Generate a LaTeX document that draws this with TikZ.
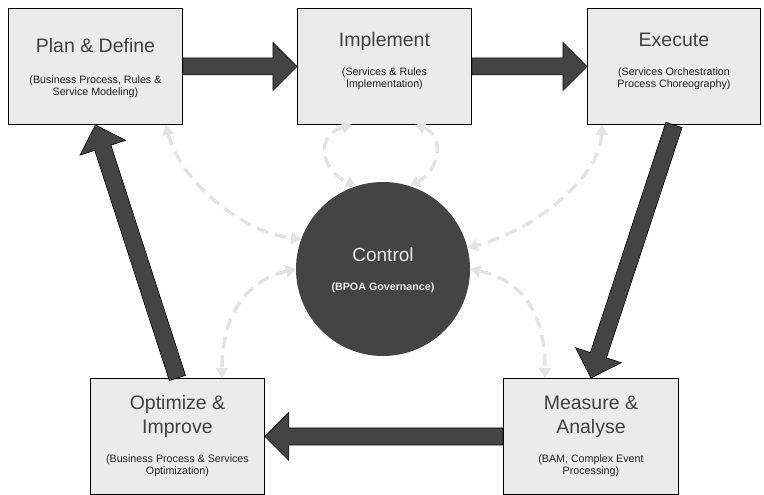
\documentclass[tikz,border=0pt]{standalone}
\usepackage{fontspec}
\setmainfont{Liberation Sans}
\usetikzlibrary{calc,arrows.meta}

\definecolor{boxfill}{HTML}{EBEBEB}
\definecolor{flowdark}{HTML}{444444}
\definecolor{titlegray}{HTML}{404040}
\definecolor{subgray}{HTML}{1E1E1E}
\definecolor{linkgray}{HTML}{E3E3E3}
\definecolor{ctrltext}{HTML}{E8E8E8}

\tikzset{
  stage/.style={draw=black, line width=0.9pt, fill=boxfill, inner sep=0pt,
    minimum width=174pt, minimum height=116pt, anchor=north west},
  hub/.style={circle, fill=flowdark, inner sep=0pt, minimum size=174pt},
  stagetitle/.style={text=titlegray, inner sep=0pt, align=center,
    font=\fontsize{19.5}{24}\selectfont},
  stagenote/.style={text=subgray, inner sep=0pt, align=center,
    font=\fontsize{10.7}{12}\selectfont},
  flowarrow/.style={fill=flowdark, draw=black, line width=0.6pt, line join=miter},
  feedback/.style={draw=linkgray, line width=3.4pt, dash pattern=on 12pt off 7pt,
    {Triangle[length=10pt,width=12pt]}-{Triangle[length=10pt,width=12pt]}}
}

% block arrow from #1 to #2: shaft half-width 8.5, head 24 long, 48 wide
\newcommand\blockarrow[2]{%
  \coordinate (ba-base) at ($(#2)!24pt!(#1)$);
  \filldraw[flowarrow]
    ($(#1)!8.5pt!90:(#2)$) -- ($(ba-base)!8.5pt!90:(#2)$)
    -- ($(ba-base)!24pt!90:(#2)$) -- (#2)
    -- ($(ba-base)!24pt!-90:(#2)$) -- ($(ba-base)!8.5pt!-90:(#2)$)
    -- ($(#1)!8.5pt!-90:(#2)$) -- cycle;
}

\begin{document}
\begin{tikzpicture}[x=1pt,y=-1pt]
\useasboundingbox (0,0) rectangle (764,495);

% lifecycle stages
\node[stage] (plan) at (8,8) {};
\node[stage] (impl) at (297,8) {};
\node[stage, minimum width=173pt] (exec) at (587,8) {};
\node[stage] (opt) at (90,378) {};
\node[stage, minimum width=175pt] (meas) at (503,378) {};

% central governance hub
\node[hub] (ctrl) at (383,269) {};

% stage texts
\node[stagetitle, anchor=base] (plan-t) at ($(plan.north)+(0,45)$) {Plan \& Define};
\node[stagenote] (plan-n) at ($(plan.north)+(0,78.75)$) {(Business Process, Rules \&\\Service Modeling)};

\node[stagetitle, anchor=base] (impl-t) at ($(impl.north)+(0,38.5)$) {Implement};
\node[stagenote] (impl-n) at ($(impl.north)+(0,70.5)$) {(Services \& Rules\\Implementation)};

\node[stagetitle, anchor=base] (exec-t) at ($(exec.north)+(0,38.5)$) {Execute};
\node[stagenote] (exec-n) at ($(exec.north)+(0,70.5)$) {(Services Orchestration\\Process Choreography)};

\node[stagetitle] (opt-t) at ($(opt.north)+(0,38.9)$) {Optimize \&\\Improve};
\node[stagenote] (opt-n) at ($(opt.north)+(0,87.25)$) {(Business Process \& Services\\Optimization)};

\node[stagetitle] (meas-t) at ($(meas.north)+(0,38.7)$) {Measure \&\\Analyse};
\node[stagenote] (meas-n) at ($(meas.north)+(0,87.25)$) {(BAM, Complex Event\\Processing)};

\node[text=ctrltext, inner sep=0pt, anchor=base, font=\fontsize{19}{24}\selectfont]
  (ctrl-t) at ($(ctrl.center)+(0,-7.3)$) {Control};
\node[text=ctrltext, inner sep=0pt, anchor=base, font=\bfseries\fontsize{10.7}{12}\selectfont]
  (ctrl-n) at ($(ctrl.center)+(0,21)$) {(BPOA Governance)};

% governance feedback links
\draw[feedback] ($(plan.south east)+(-17,0)$) .. controls (180,180) and (240,232) .. (ctrl.160);
\draw[feedback] (ctrl.180) .. controls (250,280) and (222,310) .. ($(opt.north west)+(132,0)$);
\draw[feedback] ($(impl.south west)+(55,0)$) .. controls (315,135) and (320,170) .. (ctrl.108);
\draw[feedback] ($(impl.south west)+(118,0)$) .. controls (445,135) and (440,170) .. (ctrl.72);
\draw[feedback] ($(exec.south west)+(15,0)$) .. controls (600,175) and (540,228) .. (ctrl.14);
\draw[feedback] (ctrl.0) .. controls (520,280) and (545,310) .. ($(meas.north west)+(42,0)$);

% main lifecycle flow
\blockarrow{plan.east}{impl.west}
\blockarrow{impl.east}{exec.west}
\blockarrow{exec.south}{meas.north}
\blockarrow{meas.west}{opt.east}
\blockarrow{opt.north}{plan.south}
\end{tikzpicture}
\end{document}
